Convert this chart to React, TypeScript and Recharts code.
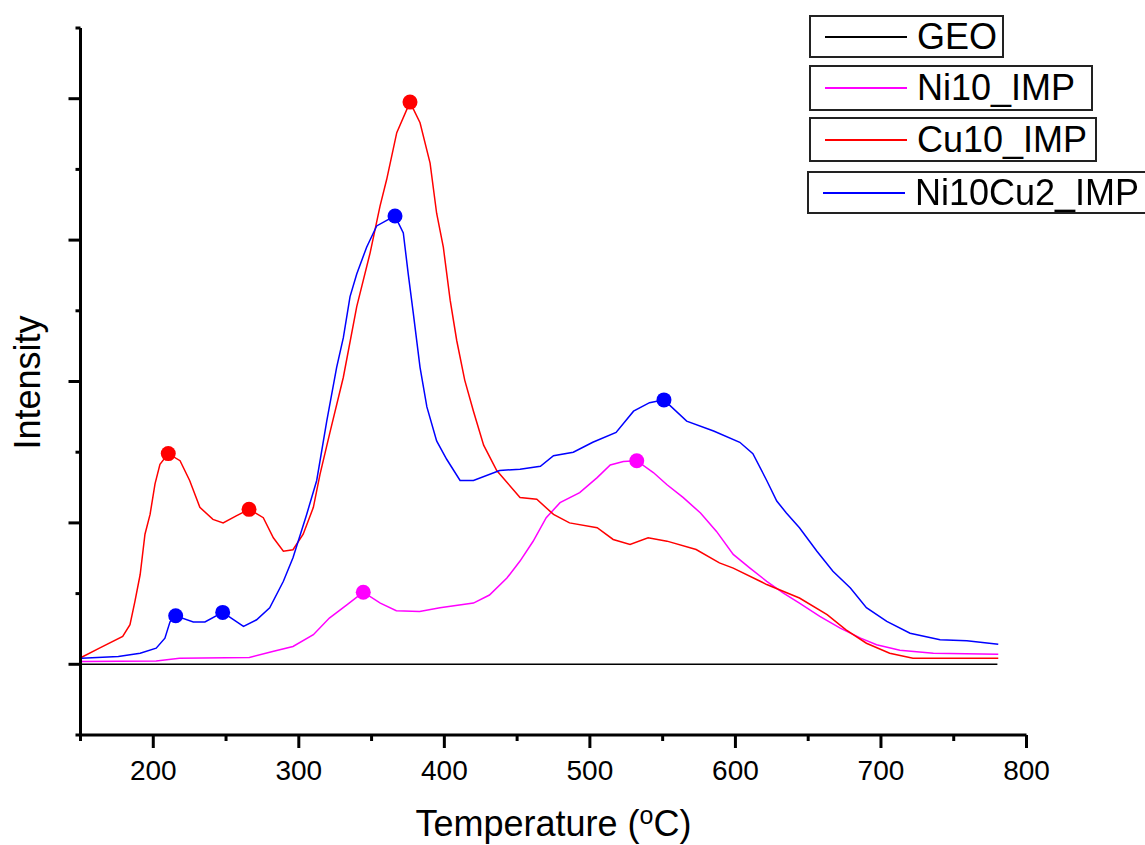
import React from "react";
import { ComposedChart, Line, Scatter, XAxis, YAxis, Legend } from "recharts";

// TPR profiles: [temperature °C, intensity a.u.]
const geo: [number, number][] = [
  [150, 0], [780, 0],
];

const ni10: [number, number][] = [
  [150.8, 0.019], [202, 0.024], [218, 0.043], [266, 0.048], [282, 0.09], [296, 0.126],
  [310, 0.209], [321, 0.327], [333, 0.42], [344.3, 0.51], [356, 0.433], [367, 0.379],
  [383, 0.374], [397, 0.4], [420, 0.433], [431, 0.49], [443, 0.61], [452, 0.73],
  [461, 0.87], [470, 1.037], [479.5, 1.143], [493, 1.214], [505, 1.32], [514, 1.41],
  [523, 1.434], [532.2, 1.44], [543.6, 1.356], [553, 1.27], [564, 1.18], [576, 1.07],
  [587, 0.94], [598.5, 0.777], [610, 0.68], [621.5, 0.587], [633, 0.504], [644, 0.433],
  [658, 0.339], [672, 0.256], [686, 0.185], [697, 0.138], [713, 0.1], [736, 0.078],
  [780.6, 0.071],
];

const cu10: [number, number][] = [
  [150.8, 0.05], [163, 0.114], [179, 0.197], [184, 0.28], [187.4, 0.445], [191, 0.635],
  [194.3, 0.92], [197.8, 1.06], [201.2, 1.276], [204.6, 1.415], [210.3, 1.49], [218.4, 1.44],
  [225, 1.3], [232, 1.11], [241, 1.025], [248, 1.0], [257, 1.05], [265.8, 1.096],
  [275.6, 1.037], [282.5, 0.895], [289.4, 0.8], [296, 0.81], [303, 0.92], [310, 1.11],
  [314.6, 1.345], [321.4, 1.64], [330.6, 2.03], [339.8, 2.53], [349, 2.91], [355.8, 3.24],
  [360.4, 3.43], [367.3, 3.76], [376.4, 3.976], [383.3, 3.83], [390.2, 3.545], [394.7, 3.19],
  [399.3, 2.95], [404, 2.575], [408.5, 2.29], [414, 2.01], [420, 1.79], [427, 1.55],
  [436, 1.37], [452, 1.18], [463.5, 1.167], [475, 1.06], [486, 1.0], [505, 0.966],
  [516, 0.883], [527.6, 0.848], [540, 0.895], [553, 0.871], [573, 0.812], [589, 0.717],
  [598.5, 0.68], [617, 0.587], [621.5, 0.564], [644, 0.469], [663, 0.351], [676, 0.244],
  [690, 0.149], [706, 0.078], [722, 0.043], [780.6, 0.043],
];

const ni10cu2: [number, number][] = [
  [150.8, 0.043], [176, 0.055], [191, 0.078], [202, 0.114], [208, 0.185], [211.5, 0.3],
  [215.4, 0.343], [227.5, 0.3], [235.5, 0.3], [247.7, 0.367], [262, 0.268], [271, 0.315],
  [280, 0.4], [289.4, 0.587], [296, 0.753], [305.4, 1.06], [312.3, 1.3], [319.2, 1.72],
  [326, 2.1], [330.6, 2.31], [335.2, 2.6], [339.8, 2.76], [346.6, 2.95], [353.5, 3.1],
  [360.4, 3.14], [366.1, 3.17], [371.8, 3.05], [375.2, 2.76], [378.7, 2.48], [383.3, 2.1],
  [388, 1.82], [394.7, 1.58], [401.6, 1.45], [410.8, 1.3], [420, 1.3], [438, 1.37],
  [452, 1.38], [466, 1.4], [475, 1.475], [488.6, 1.5], [502, 1.57], [518, 1.64],
  [530, 1.79], [541, 1.85], [550.9, 1.87], [566.5, 1.72], [585, 1.65], [603, 1.57],
  [612, 1.49], [621.5, 1.3], [628.4, 1.155], [635, 1.07], [644, 0.966], [656, 0.8],
  [667, 0.658], [679, 0.54], [690, 0.4], [704, 0.303], [720, 0.22], [740.6, 0.173],
  [759, 0.166], [780.6, 0.142],
];

// marked peak maxima
const ni10Peaks: [number, number][] = [[344.3, 0.51], [532.2, 1.44]];
const cu10Peaks: [number, number][] = [[210.3, 1.49], [265.8, 1.096], [376.4, 3.976]];
const ni10cu2Peaks: [number, number][] = [[215.4, 0.343], [247.7, 0.367], [366.1, 3.17], [550.9, 1.87]];

const seriesNames = ["GEO", "Ni10_IMP", "Cu10_IMP", "Ni10Cu2_IMP"];
const seriesColors = ["#000000", "#ff00ff", "#ff0000", "#0000ff"];

const xTicks = [150, 200, 250, 300, 350, 400, 450, 500, 550, 600, 650, 700, 750, 800];
const yTicks = [-0.5, 0, 0.5, 1, 1.5, 2, 2.5, 3, 3.5, 4, 4.5];

const FONT = "'Liberation Sans', Arial, sans-serif";

const toRows = (pts: [number, number][]) => pts.map(([t, v]) => ({ t, v }));

const XTick = (props: any) => {
  const { x, y, payload } = props;
  const major = payload.value % 100 === 0;
  return (
    <g>
      <line x1={x} x2={x} y1={y} y2={y + (major ? 13 : 6)} stroke="#000" strokeWidth={3} />
      {major && (
        <text x={x} y={y + 45} textAnchor="middle" fontSize={28} fontFamily={FONT} fill="#000">
          {payload.value}
        </text>
      )}
    </g>
  );
};

const YTick = (props: any) => {
  const { x, y, payload } = props;
  const major = Number.isInteger(payload.value);
  return <line x1={x} x2={x - (major ? 12 : 5)} y1={y} y2={y} stroke="#000" strokeWidth={3} />;
};

// box widths for the stacked legend frames
const legendBoxWidths = [195, 284, 288, 345];
const legendTops = [15, 65, 117, 171];
const legendHeights = [43, 46, 45, 43];

const LegendBoxes = () => (
  <div style={{ position: "relative", width: 1145, height: 230 }}>
    {seriesNames.map((name, i) => (
      <div
        key={name}
        style={{
          position: "absolute",
          left: i === 3 ? 807 : 809,
          top: legendTops[i],
          width: legendBoxWidths[i],
          height: legendHeights[i],
          boxSizing: "border-box",
          border: "2px solid #222",
          display: "flex",
          alignItems: "center",
          fontFamily: FONT,
          fontSize: 36,
          color: "#000",
          whiteSpace: "nowrap",
        }}
      >
        <div style={{ width: 82, height: 2, background: seriesColors[i], marginLeft: 14, marginRight: 10, flexShrink: 0 }} />
        <span style={{ lineHeight: 1 }}>{name}</span>
      </div>
    ))}
  </div>
);

const peakDot = (color: string) => (props: any) => (
  <circle cx={props.cx} cy={props.cy} r={7.5} fill={color} />
);

export default function App() {
  return (
    <div style={{ position: "fixed", left: 0, top: 0, width: 1145, height: 845, background: "#fff" }}>
      <ComposedChart width={1145} height={845} margin={{ top: 28, right: 118.5, left: 0, bottom: 70 }}>
        <XAxis
          type="number"
          dataKey="t"
          domain={[150, 800]}
          ticks={xTicks}
          interval={0}
          height={40}
          tickSize={0}
          tickMargin={0}
          tickLine={false}
          axisLine={{ stroke: "#000", strokeWidth: 3 }}
          tick={<XTick />}
          allowDataOverflow
          label={{
            content: (p: any) => {
              const vb = p.viewBox;
              return (
                <text x={vb.x + vb.width / 2} y={vb.y + 101} textAnchor="middle" fontSize={36} fontFamily={FONT} fill="#000">
                  Temperature (
                  <tspan dy={-12} fontSize={25}>o</tspan>
                  <tspan dy={12}>C)</tspan>
                </text>
              );
            },
          }}
        />
        <YAxis
          type="number"
          dataKey="v"
          domain={[-0.5, 4.5]}
          ticks={yTicks}
          interval={0}
          width={80.5}
          tickSize={0}
          tickMargin={0}
          tickLine={false}
          axisLine={{ stroke: "#000", strokeWidth: 3 }}
          tick={<YTick />}
          allowDataOverflow
          label={{
            content: (p: any) => {
              const vb = p.viewBox;
              const cx = 27;
              const cy = vb.y + vb.height / 2 + 1;
              return (
                <text
                  x={cx}
                  y={cy}
                  transform={`rotate(-90 ${cx} ${cy})`}
                  textAnchor="middle"
                  dominantBaseline="central"
                  fontSize={36}
                  fontFamily={FONT}
                  fill="#000"
                >
                  Intensity
                </text>
              );
            },
          }}
        />
        <Legend
          layout="vertical"
          align="center"
          verticalAlign="middle"
          wrapperStyle={{ left: 0, top: 0, width: 1145 }}
          content={() => <LegendBoxes />}
        />
        <Line data={toRows(geo)} dataKey="v" name="GEO" type="linear" stroke={seriesColors[0]} strokeWidth={1.5} dot={false} activeDot={false} isAnimationActive={false} />
        <Line data={toRows(ni10)} dataKey="v" name="Ni10_IMP" type="linear" stroke={seriesColors[1]} strokeWidth={1.5} dot={false} activeDot={false} isAnimationActive={false} />
        <Line data={toRows(cu10)} dataKey="v" name="Cu10_IMP" type="linear" stroke={seriesColors[2]} strokeWidth={1.5} dot={false} activeDot={false} isAnimationActive={false} />
        <Line data={toRows(ni10cu2)} dataKey="v" name="Ni10Cu2_IMP" type="linear" stroke={seriesColors[3]} strokeWidth={1.5} dot={false} activeDot={false} isAnimationActive={false} />
        <Scatter data={toRows(ni10Peaks)} dataKey="v" fill={seriesColors[1]} shape={peakDot(seriesColors[1])} isAnimationActive={false} legendType="none" />
        <Scatter data={toRows(cu10Peaks)} dataKey="v" fill={seriesColors[2]} shape={peakDot(seriesColors[2])} isAnimationActive={false} legendType="none" />
        <Scatter data={toRows(ni10cu2Peaks)} dataKey="v" fill={seriesColors[3]} shape={peakDot(seriesColors[3])} isAnimationActive={false} legendType="none" />
      </ComposedChart>
    </div>
  );
}
